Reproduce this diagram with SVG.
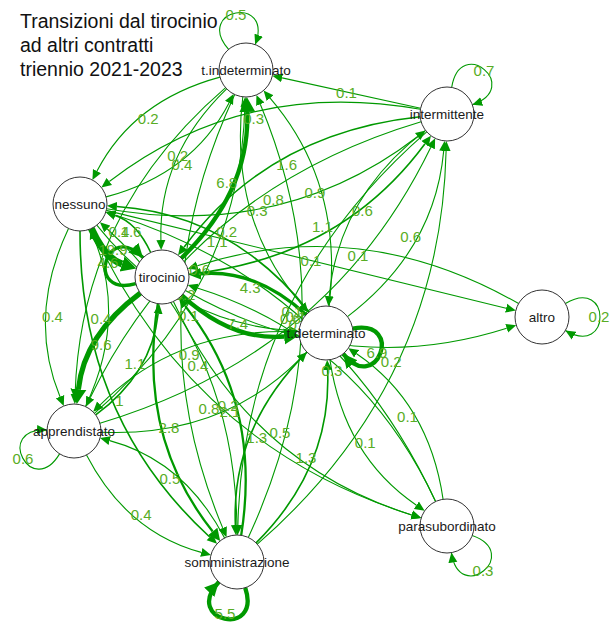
<svg xmlns="http://www.w3.org/2000/svg" width="612" height="623" viewBox="0 0 612 623">
<style>
.e{fill:none;stroke:#009900;stroke-linecap:butt}
.w1{stroke-width:1.1}.w2{stroke-width:1.6}.w3{stroke-width:2.3}.w4{stroke-width:3.4}.w5{stroke-width:4.3}.w6{stroke-width:5.2}.w7{stroke-width:7}
.lb{font-family:"Liberation Sans",Arial,sans-serif;font-size:15px;fill:#58ad24;text-anchor:middle}
.n circle{fill:#fff;stroke:#333;stroke-width:1}
.n text{font-family:"Liberation Sans",Arial,sans-serif;font-size:13.5px;fill:#1a1a1a;text-anchor:middle}
.t{font-family:"Liberation Sans",Arial,sans-serif;font-size:19.5px;fill:#111}
</style>
<defs>
<marker id="ma" viewBox="0 -5 10 10" refX="0" refY="0" markerWidth="10" markerHeight="10" markerUnits="userSpaceOnUse" orient="auto"><path d="M0,-4.5L10,0L0,4.5z" fill="#009900"/></marker>
<marker id="mb" viewBox="0 -7 12 14" refX="0" refY="0" markerWidth="12" markerHeight="14" markerUnits="userSpaceOnUse" orient="auto"><path d="M0,-6L12,0L0,6z" fill="#009900"/></marker>
<marker id="mc" viewBox="0 -9 15 18" refX="0" refY="0" markerWidth="15" markerHeight="18" markerUnits="userSpaceOnUse" orient="auto"><path d="M0,-8L15,0L0,8z" fill="#009900"/></marker>
<marker id="la" viewBox="-10 -5 10 10" refX="0" refY="0" markerWidth="10" markerHeight="10" markerUnits="userSpaceOnUse" orient="auto"><path d="M-10,-4.5L0,0L-10,4.5z" fill="#009900"/></marker>
<marker id="lc" viewBox="-14 -8 14 16" refX="0" refY="0" markerWidth="14" markerHeight="16" markerUnits="userSpaceOnUse" orient="auto"><path d="M-14,-7L0,0L-14,7z" fill="#009900"/></marker>
</defs>
<rect width="612" height="623" fill="#fff"/>
<g id="title">
<text class="t" x="20" y="28">Transizioni dal tirocinio</text>
<text class="t" x="20" y="52">ad altri contratti</text>
<text class="t" x="20" y="76">triennio 2021-2023</text>
</g>
<g id="connectors">
<path class="e w1" marker-end="url(#ma)" d="M420.6,108.2 L282.1,77.9"/>
<path class="e w1" marker-end="url(#ma)" d="M106.2,210.4 L506.1,308.2"/>
<path class="e w1" marker-end="url(#ma)" d="M220,77.1 Q133.5,100.5 97,171.1"/>
<path class="e w1" marker-end="url(#ma)" d="M106.1,196.9 Q192.5,173.5 229,102.9"/>
<path class="e w1" marker-end="url(#ma)" d="M226.6,88.8 Q158.4,155.1 160.9,240"/>
<path class="e w5" marker-end="url(#mc)" d="M181.4,258.2 Q249.6,191.9 247.3,112"/>
<path class="e w1" marker-end="url(#ma)" d="M242.8,96.8 Q228.2,219.1 301.9,304.9"/>
<path class="e w1" marker-end="url(#ma)" d="M329.2,306.2 Q343.8,183.9 270.1,98.1"/>
<path class="e w1" marker-end="url(#ma)" d="M225.6,87.6 Q80.6,212.7 75.1,394"/>
<path class="e w1" marker-end="url(#ma)" d="M94.4,413.4 Q239.4,288.3 244.9,107"/>
<path class="e w1" marker-end="url(#ma)" d="M234.7,94.5 Q133.3,314 222.7,527.9"/>
<path class="e w1" marker-end="url(#ma)" d="M248.3,537.5 Q349.7,318 260.3,104.2"/>
<path class="e w1" marker-end="url(#ma)" d="M420.4,109.3 Q243.7,78.2 109.3,181.5"/>
<path class="e w1" marker-end="url(#ma)" d="M106.6,208.7 Q283.3,239.8 417.7,136.5"/>
<path class="e w2" marker-end="url(#ma)" d="M420.2,116.8 Q268.7,132.7 184,247.3"/>
<path class="e w2" marker-end="url(#ma)" d="M188.8,274.2 Q340.3,258.3 425,143.7"/>
<path class="e w1" marker-end="url(#ma)" d="M425.5,130.4 Q338.3,196.9 329.3,296.2"/>
<path class="e w1" marker-end="url(#ma)" d="M347.5,316.6 Q434.7,250.1 443.7,150.9"/>
<path class="e w1" marker-end="url(#ma)" d="M421.1,121.7 Q190.7,190.5 90.2,397.7"/>
<path class="e w1" marker-end="url(#ma)" d="M99.9,423.3 Q330.3,354.5 430.8,147.3"/>
<path class="e w1" marker-end="url(#ma)" d="M426.7,131.8 Q243.4,291.8 237.9,525"/>
<path class="e w1" marker-end="url(#ma)" d="M257.3,544.2 Q440.6,384.2 446.1,151"/>
<path class="e w7" marker-end="url(#mc)" d="M91.3,228.5 Q105,258.5 122.1,264"/>
<path class="e w2" marker-end="url(#ma)" d="M150.7,252.5 Q137,222.5 115.2,215.4"/>
<path class="e w1" marker-end="url(#ma)" d="M96.8,225.1 Q174.6,322.7 289.1,330.5"/>
<path class="e w2" marker-end="url(#ma)" d="M309.2,311.9 Q231.4,214.3 116.9,206.5"/>
<path class="e w1" marker-end="url(#ma)" d="M68.5,228.4 Q27,316.1 60,396.7"/>
<path class="e w1" marker-end="url(#ma)" d="M85.5,406.6 Q127,318.9 94,238.3"/>
<path class="e w2" marker-end="url(#ma)" d="M80,231 Q79.7,417.6 209.7,537"/>
<path class="e w1" marker-end="url(#ma)" d="M237,535 Q237.3,348.4 107.3,229"/>
<path class="e w1" marker-end="url(#ma)" d="M91.4,228.5 Q192.7,445.8 411.7,514.9"/>
<path class="e w1" marker-end="url(#ma)" d="M435.6,501.5 Q334.3,284.2 115.3,215.1"/>
<path class="e w5" marker-end="url(#mc)" d="M181.9,295.3 Q231.6,341 284.1,336.5"/>
<path class="e w4" marker-end="url(#mb)" d="M306.1,314.7 Q256.4,269 200.9,273.7"/>
<path class="e w1" marker-end="url(#ma)" d="M185.4,290.4 Q343.2,380.6 506.7,328.3"/>
<path class="e w1" marker-end="url(#ma)" d="M518.6,303.6 Q360.8,213.4 197.3,265.7"/>
<path class="e w6" marker-end="url(#mc)" d="M140.3,293.1 Q84.2,334.6 78.4,389.2"/>
<path class="e w2" marker-end="url(#ma)" d="M95.7,414.9 Q151.8,373.4 158.1,313.8"/>
<path class="e w3" marker-end="url(#mb)" d="M157.8,303.7 Q136.7,436.1 212.7,531.5"/>
<path class="e w3" marker-end="url(#ma)" d="M241.2,535.3 Q262.3,402.9 185.1,305.9"/>
<path class="e w1" marker-end="url(#ma)" d="M173.4,301.5 Q249.7,464.3 411.7,515"/>
<path class="e w1" marker-end="url(#ma)" d="M435.6,501.5 Q359.3,338.7 197.3,288"/>
<path class="e w1" marker-end="url(#ma)" d="M299,331.8 Q178.4,326.6 100.2,404.8"/>
<path class="e w1" marker-end="url(#ma)" d="M101,432.2 Q221.6,437.4 299.8,359.2"/>
<path class="e w2" marker-end="url(#ma)" d="M306.9,352.1 Q231.1,427.9 235.4,525"/>
<path class="e w2" marker-end="url(#ma)" d="M256.1,542.9 Q331.9,467.1 327.6,370"/>
<path class="e w1" marker-end="url(#ma)" d="M329.9,359.7 Q344.1,456.1 416.4,505.2"/>
<path class="e w1" marker-end="url(#ma)" d="M443.1,499.3 Q428.9,402.9 356.6,353.8"/>
<path class="e w1" marker-end="url(#ma)" d="M86.5,455 Q126.7,532.3 201.3,552.4"/>
<path class="e w1" marker-end="url(#ma)" d="M224.6,538.1 Q184.3,460.7 109.7,440.6"/>
<path class="e w1" marker-end="url(#la)" d="M228.6,49.4 C193.5,8.8 274.1,-5.6 255.2,44.6"/>
<path class="e w1" marker-end="url(#la)" d="M451.7,87.4 C460.3,34.4 523.1,87.2 472.3,104.8"/>
<path class="e w1" marker-end="url(#la)" d="M565.4,303.5 C611.5,276 611.5,358 565.4,330.5"/>
<path class="e w5" marker-end="url(#lc)" d="M352.6,328.6 C405.4,318.9 376.8,395.7 343.2,353.8"/>
<path class="e w1" marker-end="url(#la)" d="M59.6,453.9 C31.8,499.7 -6.6,427.3 47,430.1"/>
<path class="e w5" marker-end="url(#lc)" d="M245.2,587.8 C262.3,638.6 182.1,621.2 218.8,582"/>
<path class="e w1" marker-end="url(#la)" d="M472.2,535.6 C522.7,553.7 459.3,605.7 451.4,552.6"/>
<path class="e w4" marker-end="url(#lc)" d="M135.8,283.7 C84,297.9 106,218.9 143,257.7"/>
</g>
<g id="edge-labels">
<text class="lb" x="346.5" y="97.5">0.1</text>
<text class="lb" x="311" y="266">0.1</text>
<text class="lb" x="148.3" y="124">0.2</text>
<text class="lb" x="177.7" y="160.5">0.2</text>
<text class="lb" x="182" y="170">0.4</text>
<text class="lb" x="226.8" y="188">6.8</text>
<text class="lb" x="257.1" y="215.5">0.3</text>
<text class="lb" x="314.9" y="198">0.9</text>
<text class="lb" x="119" y="237">0.4</text>
<text class="lb" x="199.7" y="274.5">0.6</text>
<text class="lb" x="188.4" y="320.5">0.1</text>
<text class="lb" x="296" y="322">0.1</text>
<text class="lb" x="253.6" y="124">0.3</text>
<text class="lb" x="273.4" y="204.5">0.8</text>
<text class="lb" x="286.6" y="169.5">1.6</text>
<text class="lb" x="322.4" y="232">1.1</text>
<text class="lb" x="362.4" y="215.5">0.6</text>
<text class="lb" x="410.6" y="242">0.6</text>
<text class="lb" x="226.6" y="237">0.2</text>
<text class="lb" x="292" y="317">0.1</text>
<text class="lb" x="290.5" y="324">0.6</text>
<text class="lb" x="391.3" y="366.5">0.2</text>
<text class="lb" x="113" y="255">19.9</text>
<text class="lb" x="131" y="237">1.6</text>
<text class="lb" x="185" y="299.5">0.2</text>
<text class="lb" x="217.2" y="246.5">1.1</text>
<text class="lb" x="52.5" y="322">0.4</text>
<text class="lb" x="101" y="323.5">0.4</text>
<text class="lb" x="119.5" y="405.5">1</text>
<text class="lb" x="197.9" y="371">0.4</text>
<text class="lb" x="228.1" y="410.5">0.2</text>
<text class="lb" x="299" y="330">0.6</text>
<text class="lb" x="237.8" y="328.5">7.4</text>
<text class="lb" x="250.2" y="292.5">4.3</text>
<text class="lb" x="358" y="260.5">0.1</text>
<text class="lb" x="101.1" y="349.5">9.6</text>
<text class="lb" x="134.9" y="369">1.1</text>
<text class="lb" x="169" y="433">2.8</text>
<text class="lb" x="230" y="417">2.1</text>
<text class="lb" x="280" y="438">0.5</text>
<text class="lb" x="331.9" y="375.5">0.3</text>
<text class="lb" x="189.2" y="359.5">0.9</text>
<text class="lb" x="209" y="414">0.8</text>
<text class="lb" x="256.8" y="443">1.3</text>
<text class="lb" x="306" y="462.5">1.3</text>
<text class="lb" x="365.3" y="448">0.1</text>
<text class="lb" x="407.5" y="421.5">0.1</text>
<text class="lb" x="141.1" y="519.5">0.4</text>
<text class="lb" x="169.9" y="484">0.5</text>
<text class="lb" x="236" y="19.5">0.5</text>
<text class="lb" x="484" y="75.5">0.7</text>
<text class="lb" x="599" y="321.5">0.2</text>
<text class="lb" x="377" y="357.5">6.9</text>
<text class="lb" x="23" y="463.5">0.6</text>
<text class="lb" x="225" y="619">5.5</text>
<text class="lb" x="483" y="575.5">0.3</text>
<text class="lb" x="108" y="267.5">4.6</text>
</g>
<g id="node-tindeterminato" class="n"><circle cx="246" cy="70" r="27"/><text x="246" y="74.7">t.indeterminato</text></g>
<g id="node-intermittente" class="n"><circle cx="447" cy="114" r="27"/><text x="447" y="118.7">intermittente</text></g>
<g id="node-nessuno" class="n"><circle cx="80" cy="204" r="27"/><text x="80" y="208.7">nessuno</text></g>
<g id="node-tirocinio" class="n"><circle cx="162" cy="277" r="27"/><text x="162" y="281.7">tirocinio</text></g>
<g id="node-tdeterminato" class="n"><circle cx="326" cy="333" r="27"/><text x="326" y="337.7">t.determinato</text></g>
<g id="node-altro" class="n"><circle cx="542" cy="317" r="27"/><text x="542" y="321.7">altro</text></g>
<g id="node-apprendistato" class="n"><circle cx="74" cy="431" r="27"/><text x="74" y="435.7">apprendistato</text></g>
<g id="node-somministrazione" class="n"><circle cx="237" cy="562" r="27"/><text x="237" y="566.7">somministrazione</text></g>
<g id="node-parasubordinato" class="n"><circle cx="447" cy="526" r="27"/><text x="447" y="530.7">parasubordinato</text></g>
</svg>
